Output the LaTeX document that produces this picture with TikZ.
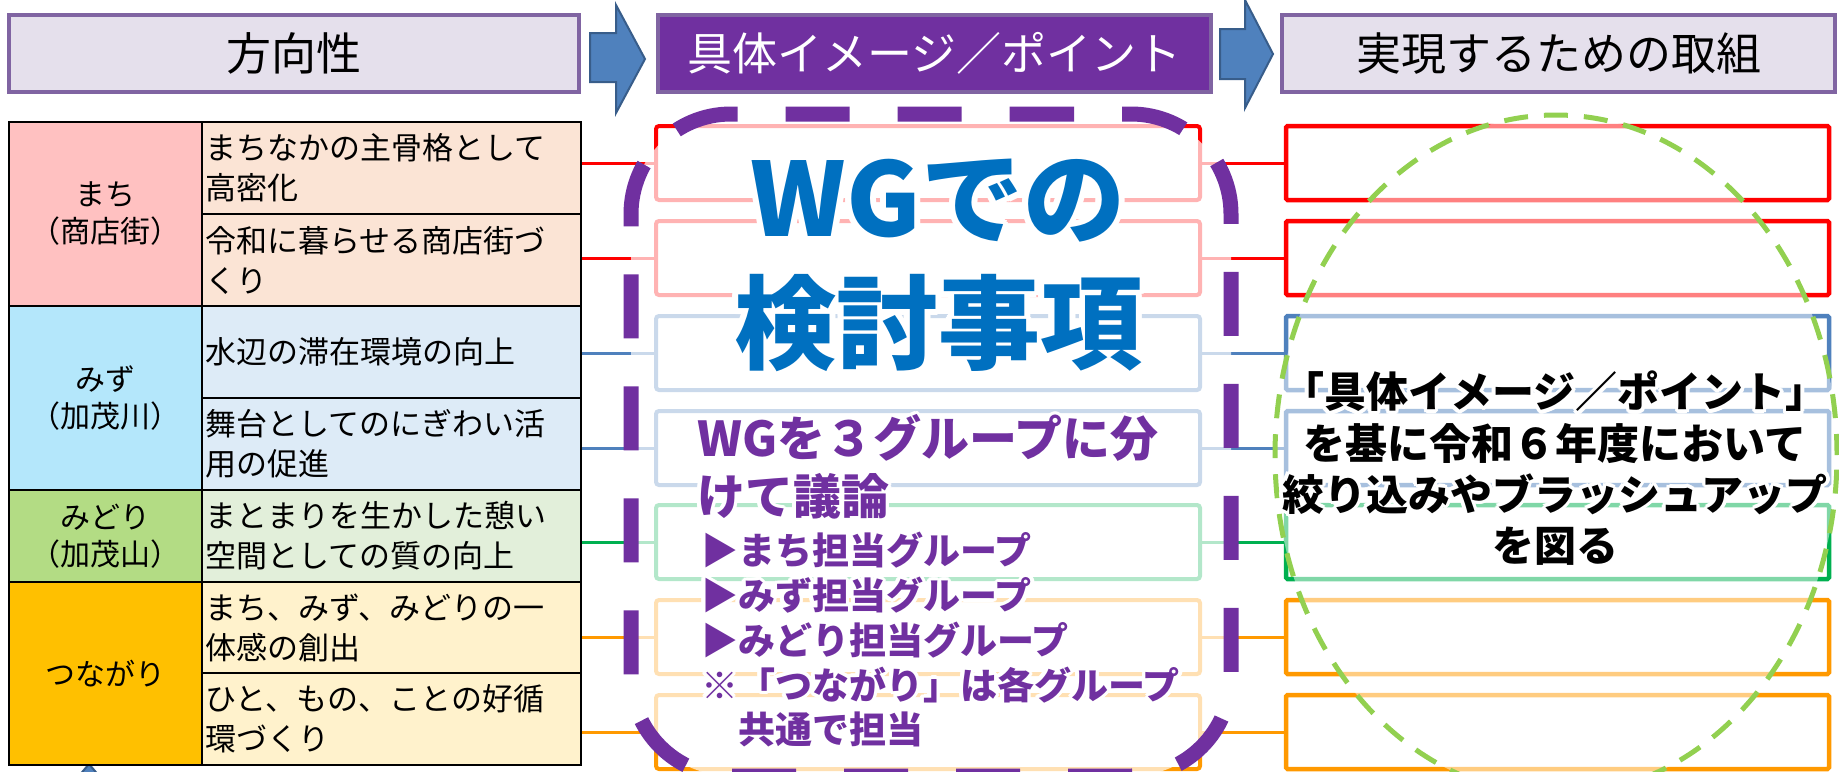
\documentclass[tikz,border=0pt]{standalone}
\usepackage{fontspec}
\setmainfont{Noto Sans CJK JP}
\definecolor{hdrfill}{HTML}{E5E0EC}
\definecolor{hdrline}{HTML}{8064A2}
\definecolor{purp}{HTML}{7030A0}
\definecolor{wgblue}{HTML}{0070C0}
\definecolor{cred}{HTML}{FF0000}
\definecolor{cblue}{HTML}{4F81BD}
\definecolor{cgreen}{HTML}{00B050}
\definecolor{corange}{HTML}{FF9900}
\definecolor{arrfill}{HTML}{4F81BD}
\definecolor{arrline}{HTML}{385D8A}
\definecolor{lgreen}{HTML}{92D050}
\definecolor{machiL}{HTML}{FFC1C1}
\definecolor{machiR}{HTML}{FBE4D5}
\definecolor{mizuL}{HTML}{B4E7FB}
\definecolor{mizuR}{HTML}{DDEBF7}
\definecolor{midoriL}{HTML}{B3DC84}
\definecolor{midoriR}{HTML}{E2EFDA}
\definecolor{tsunaL}{HTML}{FFC000}
\definecolor{tsunaR}{HTML}{FFF2CC}
\newlength\glr
\newcommand\gcopy[3]{\rlap{\kern#1\raise#2\hbox{\color{white}#3}}}
\newcommand\gl[2][3.5pt]{\leavevmode\begingroup\setlength\glr{#1}%
\gcopy{\glr}{0pt}{#2}\gcopy{-\glr}{0pt}{#2}\gcopy{0pt}{\glr}{#2}\gcopy{0pt}{-\glr}{#2}%
\gcopy{0.707\glr}{0.707\glr}{#2}\gcopy{-0.707\glr}{0.707\glr}{#2}%
\gcopy{0.707\glr}{-0.707\glr}{#2}\gcopy{-0.707\glr}{-0.707\glr}{#2}%
\gcopy{0.924\glr}{0.383\glr}{#2}\gcopy{-0.924\glr}{0.383\glr}{#2}%
\gcopy{0.924\glr}{-0.383\glr}{#2}\gcopy{-0.924\glr}{-0.383\glr}{#2}%
\gcopy{0.383\glr}{0.924\glr}{#2}\gcopy{-0.383\glr}{0.924\glr}{#2}%
\gcopy{0.383\glr}{-0.924\glr}{#2}\gcopy{-0.383\glr}{-0.924\glr}{#2}%
\endgroup#2}
\begin{document}
\begin{tikzpicture}[x=1pt,y=-1pt,
  hdr/.style={draw=hdrline, line width=4pt, minimum height=77pt, inner sep=0pt,
    font=\fontsize{45}{54}\selectfont},
  blockarrow/.style={fill=arrfill, draw=arrline, line width=2pt, line join=miter},
  cellL/.style={draw=black, line width=2.8pt, minimum width=193pt, inner sep=0pt,
    align=center, font=\fontsize{30}{37}\selectfont},
  cellR/.style={draw=black, line width=2.8pt, text width=372pt, inner xsep=3.5pt,
    inner ysep=0pt, align=left, font=\fontsize{31}{40}\selectfont},
  mbox/.style={draw, line width=4pt, fill=white, rounded corners=3pt,
    minimum width=544pt, minimum height=74pt, inner sep=0pt},
  rbox/.style={draw, line width=4.5pt, fill=white, rounded corners=1.5pt,
    minimum width=543pt, minimum height=74pt, inner sep=0pt},
  conn/.style={line width=3pt},
  bigtxt/.style={text=wgblue, inner sep=0pt, align=center,
    font=\bfseries\fontsize{102}{125}\selectfont},
  ptxtA/.style={text=purp, inner sep=0pt, align=left, anchor=west,
    font=\bfseries\fontsize{48}{58}\selectfont},
  ptxtB/.style={text=purp, inner sep=0pt, align=left, anchor=west,
    font=\bfseries\fontsize{37}{44.75}\selectfont},
  rtxt/.style={text=black, inner sep=0pt, align=center,
    font=\bfseries\fontsize{42}{51.3}\selectfont}
]
\useasboundingbox (0,0) rectangle (1839,771);
\fill[white] (0,0) rectangle (1839,771);

% headers
\node[hdr, fill=hdrfill, minimum width=570pt] (h1) at (294,53.5) {方向性};
\node[hdr, fill=purp, text=white, minimum width=553pt] (h2) at (934.5,53.5) {具体イメージ／ポイント};
\node[hdr, fill=hdrfill, minimum width=553pt] (h3) at (1558.5,53.5) {実現するための取組};
\filldraw[blockarrow] (590,33) -- (616,33) -- (616,5) -- (645,59) -- (616,113) -- (616,82) -- (590,82) -- cycle;
\filldraw[blockarrow] (1220,29) -- (1245,29) -- (1245,0) -- (1273,54) -- (1245,108) -- (1245,79) -- (1220,79) -- cycle;
\filldraw[blockarrow] (78,777) -- (89,764) -- (100,777) -- cycle;

% table
\node[cellR, fill=machiR, minimum height=92pt] (c1) at (391.5,168) {まちなかの主骨格として\\高密化};
\node[cellR, fill=machiR, minimum height=92pt] (c2) at (391.5,260) {令和に暮らせる商店街づ\\くり};
\node[cellR, fill=mizuR, minimum height=92pt] (c3) at (391.5,352) {水辺の滞在環境の向上};
\node[cellR, fill=mizuR, minimum height=92pt] (c4) at (391.5,444) {舞台としてのにぎわい活\\用の促進};
\node[cellR, fill=midoriR, minimum height=92pt] (c5) at (391.5,536) {まとまりを生かした憩い\\空間としての質の向上};
\node[cellR, fill=tsunaR, minimum height=91pt] (c6) at (391.5,627.5) {まち、みず、みどりの一\\体感の創出};
\node[cellR, fill=tsunaR, minimum height=92pt] (c7) at (391.5,719) {ひと、もの、ことの好循\\環づくり};
\node[cellL, fill=machiL, minimum height=184pt] (lMachi) at (105.5,214) {まち\\（商店街）};
\node[cellL, fill=mizuL, minimum height=184pt] (lMizu) at (105.5,398) {みず\\（加茂川）};
\node[cellL, fill=midoriL, minimum height=92pt] (lMidori) at (105.5,536) {みどり\\（加茂山）};
\node[cellL, fill=tsunaL, minimum height=183pt] (lTsuna) at (105.5,673.5) {つながり};

% middle boxes
\node[mbox, draw=cred] (m1) at (928,163) {};
\node[mbox, draw=cred] (m2) at (928,258) {};
\node[mbox, draw=cblue] (m3) at (928,353) {};
\node[mbox, draw=cblue] (m4) at (928,448) {};
\node[mbox, draw=cgreen] (m5) at (928,542) {};
\node[mbox, draw=corange] (m6) at (928,637) {};
\node[mbox, draw=corange] (m7) at (928,732) {};
% right boxes
\node[rbox, draw=cred] (g1) at (1557.5,163) {};
\node[rbox, draw=cred] (g2) at (1557.5,258) {};
\node[rbox, draw=cblue] (g3) at (1557.5,353) {};
\node[rbox, draw=cblue] (g4) at (1557.5,448) {};
\node[rbox, draw=cgreen] (g5) at (1557.5,542) {};
\node[rbox, draw=corange] (g6) at (1557.5,637) {};
\node[rbox, draw=corange] (g7) at (1557.5,732) {};

% connectors
\draw[conn, cred] (c1.east |- m1.west) -- (m1.west);
\draw[conn, cred] (c2.east |- m2.west) -- (m2.west);
\draw[conn, cblue] (c3.east |- m3.west) -- (m3.west);
\draw[conn, cblue] (c4.east |- m4.west) -- (m4.west);
\draw[conn, cgreen] (c5.east |- m5.west) -- (m5.west);
\draw[conn, corange] (c6.east |- m6.west) -- (m6.west);
\draw[conn, corange] (c7.east |- m7.west) -- (m7.west);
\draw[conn, cred] (m1.east) -- (g1.west);
\draw[conn, cred] (m2.east) -- (g2.west);
\draw[conn, cblue] (m3.east) -- (g3.west);
\draw[conn, cblue] (m4.east) -- (g4.west);
\draw[conn, cgreen] (m5.east) -- (g5.west);
\draw[conn, corange] (m6.east) -- (g6.west);
\draw[conn, corange] (m7.east) -- (g7.west);

% overlays
\fill[white, fill opacity=0.7, rounded corners=100pt] (631,114) rectangle (1231,776);
\fill[white, fill opacity=0.5] (1556,455) ellipse [x radius=281pt, y radius=340pt];
\draw[purp, line width=15pt, dash pattern=on 64pt off 48pt, dash phase=21pt, rounded corners=100pt]
  (931,114) -- (1231,114) -- (1231,776) -- (631,776) -- (631,114) -- cycle;
\draw[lgreen, line width=5pt, dash pattern=on 24pt off 16pt, dash phase=3pt]
  (1556,455) ellipse [x radius=281pt, y radius=340pt];

% texts
\node[bigtxt] (wg) at (938,265.5) {\gl[6pt]{WGでの}\\\gl[6pt]{検討事項}};
\node[ptxtA] (pa) at (697,467) {\gl{WGを３グループに分}\\\gl{けて議論}};
\node[ptxtB] (pb) at (701,640) {\gl{▶まち担当グループ}\\\gl{▶みず担当グループ}\\\gl{▶みどり担当グループ}\\\gl{※「つながり」は各グループ}\\\gl{　共通で担当}};
\node[rtxt] (rt) at (1555,468.3) {\gl{「具体イメージ／ポイント」}\\\gl{を基に令和６年度において}\\\gl{絞り込みやブラッシュアップ}\\\gl{を図る}};
\end{tikzpicture}
\end{document}
